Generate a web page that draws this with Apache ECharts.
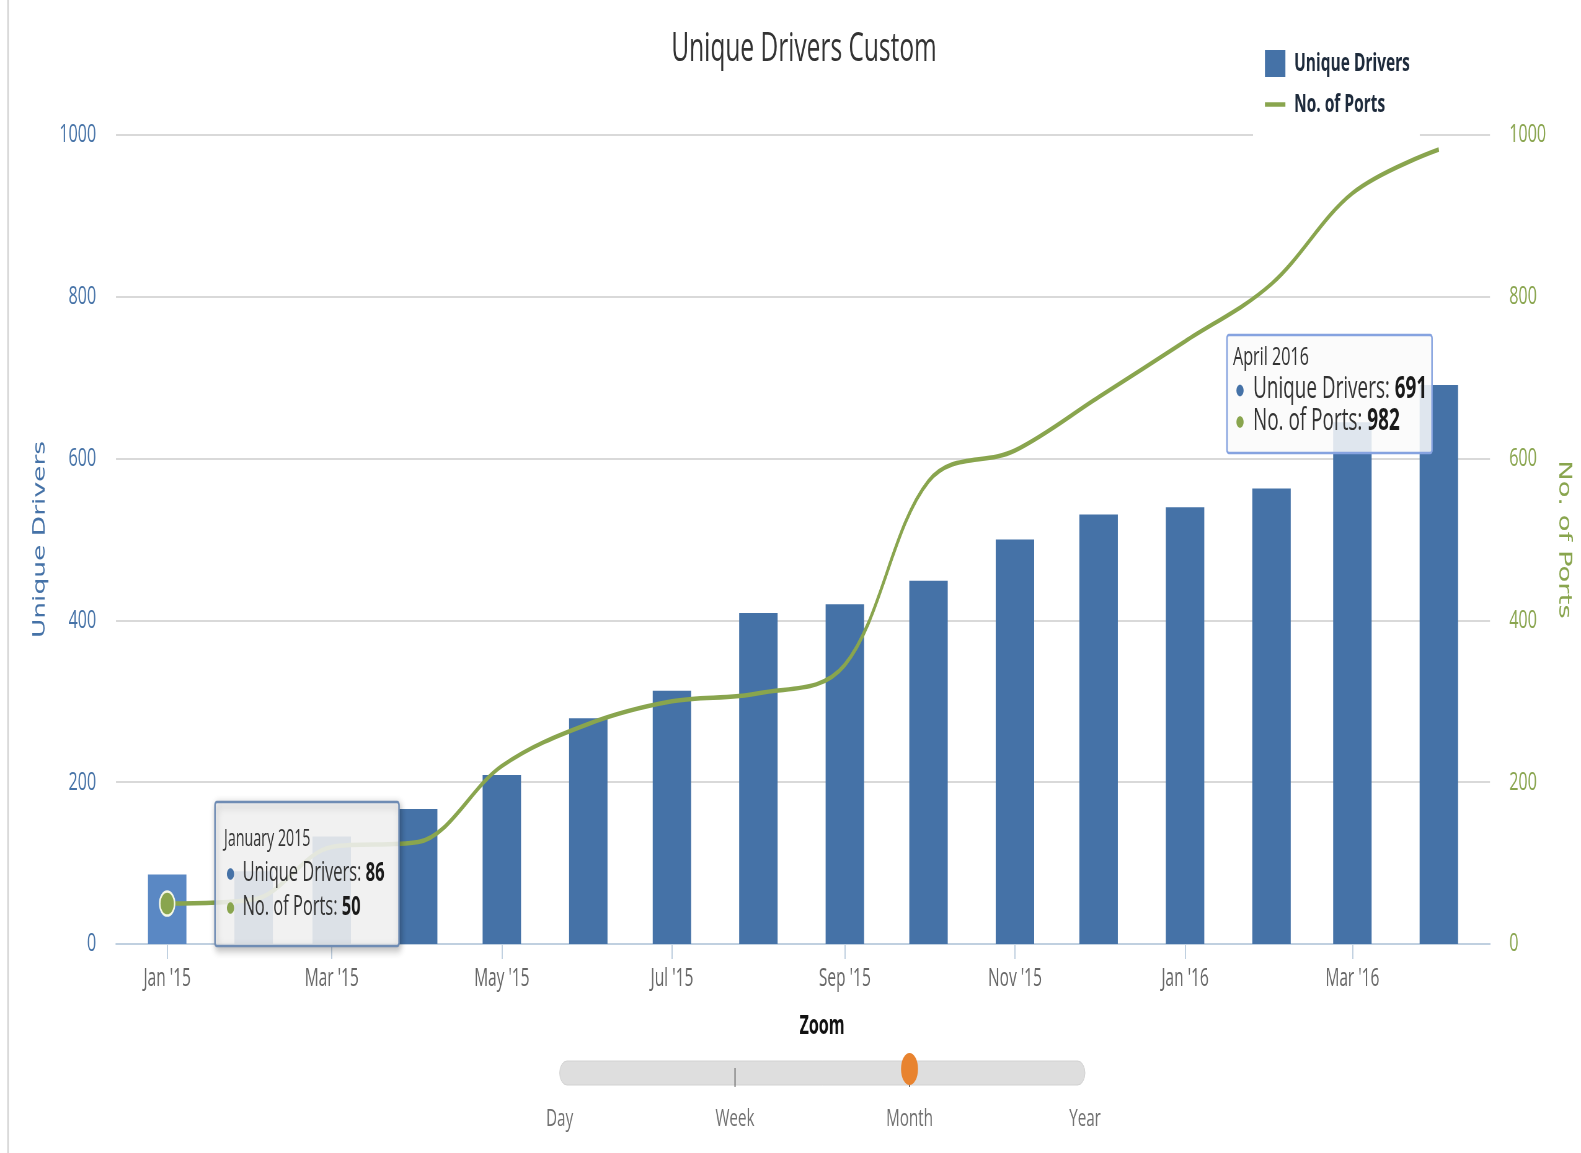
<!DOCTYPE html>
<html>
<head>
<meta charset="utf-8">
<title>Unique Drivers Custom</title>
<script src="https://cdn.jsdelivr.net/npm/echarts@6/dist/echarts.min.js"></script>
<style>
  html, body { margin: 0; padding: 0; overflow: hidden; background: #fff; }
  #wrap { width: 1581px; height: 1153px; overflow: hidden; }
  /* the drawing surface is laid out wide and narrowed horizontally for the condensed look */
  #chart { width: 2550px; height: 1153px; transform: scaleX(0.62); transform-origin: 0 0; }
</style>
</head>
<body>
<div id="wrap"><div id="chart"></div></div>
<script>
// ---- data -------------------------------------------------------------
const months = [
  '2015-01-01', '2015-02-01', '2015-03-01', '2015-04-01', '2015-05-01', '2015-06-01',
  '2015-07-01', '2015-08-01', '2015-09-01', '2015-10-01', '2015-11-01', '2015-12-01',
  '2016-01-01', '2016-02-01', '2016-03-01', '2016-04-01'
];
const uniqueDrivers = [86, 90, 133, 167, 209, 279, 313, 409, 420, 449, 500, 531, 540, 563, 645, 691];
const ports = [50, 55, 120, 126, 220, 272, 300, 310, 345, 572, 610, 676, 745, 816, 928, 982];

const tickMonths = ['2015-01-01', '2015-03-01', '2015-05-01', '2015-07-01',
                    '2015-09-01', '2015-11-01', '2016-01-01', '2016-03-01'];
const tickLabels = ["Jan '15", "Mar '15", "May '15", "Jul '15",
                    "Sep '15", "Nov '15", "Jan '16", "Mar '16"];

const monthNames = ['January', 'February', 'March', 'April', 'May', 'June', 'July',
                    'August', 'September', 'October', 'November', 'December'];
const zoomLevels = ['Day', 'Week', 'Month', 'Year'];
const zoomSelected = 'Month';

// ---- helpers ----------------------------------------------------------
const S = 0.62;                       // horizontal factor of the surface (see CSS)
const px = v => v / S;                // page x -> surface x
const toTime = d => Date.parse(d + 'T00:00:00Z');
const DAY = 24 * 3600 * 1000;
const times = months.map(toTime);
const tickTimes = tickMonths.map(toTime);
const monthTitle = i => {
  const d = new Date(times[i]);
  return monthNames[d.getUTCMonth()] + ' ' + d.getUTCFullYear();
};
const onTop = els => els.map(e => Object.assign({ z: 100, silent: true }, e));

const BLUE = '#4572A7';
const GREEN = '#89A54E';
const FONT = 'Open Sans';

// ---- series data ------------------------------------------------------
const barData = times.map((t, i) => i === 0
  ? { value: [t, uniqueDrivers[i]], itemStyle: { color: '#5a88c4' } }
  : [t, uniqueDrivers[i]]);
const lineData = times.map((t, i) => [t, ports[i]]);

// ---- hover boxes ------------------------------------------------------
function hoverBox(i, box, sizes, boxStyle) {
  const rows = [
    { color: BLUE, label: 'Unique Drivers: ', value: uniqueDrivers[i] },
    { color: GREEN, label: 'No. of Ports: ', value: ports[i] }
  ];
  const els = [{
    type: 'rect',
    shape: { x: px(box.x), y: box.y, width: px(box.x2) - px(box.x), height: box.h, r: 3 },
    style: Object.assign({ fill: 'rgba(250,250,250,0.85)', lineWidth: 2.5 }, boxStyle)
  }, {
    type: 'text', x: px(box.tx), y: box.ty,
    style: { text: monthTitle(i), fontFamily: FONT, fontSize: sizes.title, fill: '#333',
             verticalAlign: 'middle' }
  }];
  rows.forEach((r, k) => {
    const y = box.ty + box.lh * (k + 1);
    els.push({
      type: 'ellipse', shape: { cx: px(box.bx), cy: y + 1, rx: 5.8, ry: 5.8 },
      style: { fill: r.color }
    });
    els.push({
      type: 'text', x: px(box.rx), y: y,
      style: {
        text: '{n|' + r.label + '}{b|' + r.value + '}',
        verticalAlign: 'middle',
        rich: {
          n: { fontFamily: FONT, fontSize: sizes.row, fill: '#333' },
          b: { fontFamily: FONT, fontSize: sizes.row, fontWeight: 'bold', fill: '#1a1a1a' }
        }
      }
    });
  });
  return onTop(els);
}

// ---- zoom control -----------------------------------------------------
function zoomControl() {
  const stops = [559.6, 735, 909.5, 1085];
  const sel = zoomLevels.indexOf(zoomSelected);
  const els = [{
    type: 'text', x: px(822), y: 1027,
    style: { text: 'Zoom', fontFamily: FONT, fontSize: 26, fontWeight: 'bold', fill: '#111',
             align: 'center', verticalAlign: 'middle' }
  }, {
    type: 'rect',
    shape: { x: px(stops[0]), y: 1061, width: px(stops[3]) - px(stops[0]), height: 24, r: 12 },
    style: { fill: '#dedede', stroke: '#d2d2d2', lineWidth: 1 }
  }];
  [1, 2].forEach(k => els.push({
    type: 'line', shape: { x1: px(stops[k]), y1: 1068, x2: px(stops[k]), y2: 1087 },
    style: { stroke: '#555', lineWidth: 1.6 }
  }));
  els.push({
    type: 'ellipse', shape: { cx: px(stops[sel]), cy: 1069, rx: 13.7, ry: 16 },
    style: { fill: '#e8832f' }
  });
  zoomLevels.forEach((name, k) => els.push({
    type: 'text', x: px(stops[k]), y: 1119,
    style: { text: name, fontFamily: FONT, fontSize: 24.5, fill: '#707070',
             align: 'center', verticalAlign: 'middle' }
  }));
  return onTop(els);
}

// ---- chart ------------------------------------------------------------
const PAD = 18.35 * DAY;
const chart = echarts.init(document.getElementById('chart'));

chart.setOption({
  animation: false,
  backgroundColor: '#fff',
  textStyle: { fontFamily: FONT },
  title: {
    text: 'Unique Drivers Custom',
    left: px(804) - 5, top: 25, textAlign: 'center',
    textStyle: { fontFamily: FONT, fontSize: 39.5, fontWeight: 'normal', color: '#333' }
  },
  legend: {
    orient: 'vertical', left: px(1253), top: 34,
    padding: [16, 16, 22, 17],
    backgroundColor: '#fff',
    itemWidth: 33, itemHeight: 27, itemGap: 15,
    selectedMode: false,
    textStyle: { fontFamily: FONT, fontSize: 25, fontWeight: 'bold', color: '#1e2b3c',
                 padding: [0, 0, 0, 9] },
    data: [
      { name: 'Unique Drivers', icon: 'rect' },
      // plain line swatch, no point marker
      { name: 'No. of Ports',
        itemStyle: { color: 'rgba(0,0,0,0)', borderWidth: 0, opacity: 0 },
        lineStyle: { color: GREEN, width: 4.5 } }
    ]
  },
  grid: { left: px(116), right: 2550 - px(1490), top: 135, bottom: 209, containLabel: false },
  xAxis: {
    // month starts as timestamps on a linear scale
    type: 'value',
    min: times[0] - PAD,
    max: times[times.length - 1] + PAD,
    axisLine: { lineStyle: { color: '#C0D0E0', width: 2 } },
    axisTick: { show: true, length: 15, customValues: tickTimes,
                lineStyle: { color: '#C0D0E0', width: 2 } },
    axisLabel: {
      customValues: tickTimes,
      formatter: v => { const k = tickTimes.indexOf(+v); return k >= 0 ? tickLabels[k] : ''; },
      margin: 22, fontSize: 25, color: '#666', fontFamily: FONT
    },
    splitLine: { show: false }
  },
  yAxis: [{
    type: 'value', min: 0, max: 1000, interval: 200, position: 'left',
    name: 'Unique Drivers', nameLocation: 'middle', nameGap: 108,
    nameTextStyle: { color: BLUE, fontFamily: 'DejaVu Sans', fontSize: 26.5 },
    axisLabel: { color: BLUE, fontSize: 26, margin: 32, fontFamily: FONT, formatter: v => String(v) },
    axisLine: { show: false }, axisTick: { show: false },
    splitLine: { lineStyle: { color: '#d9d9d9', width: 2 } }
  }, {
    type: 'value', min: 0, max: 1000, interval: 200, position: 'right',
    name: 'No. of Ports', nameLocation: 'middle', nameGap: 105, nameRotate: -90,
    nameTextStyle: { color: GREEN, fontFamily: 'DejaVu Sans', fontSize: 27.5 },
    axisLabel: { color: GREEN, fontSize: 26, margin: 31, fontFamily: FONT, formatter: v => String(v) },
    axisLine: { show: false }, axisTick: { show: false },
    splitLine: { show: false }
  }],
  series: [{
    name: 'Unique Drivers', type: 'bar', yAxisIndex: 0,
    barWidth: 62,
    itemStyle: { color: BLUE },
    emphasis: { disabled: true },
    data: barData
  }, {
    name: 'No. of Ports', type: 'line', yAxisIndex: 1,
    smooth: 0.35, symbol: 'none',
    lineStyle: { color: GREEN, width: 4.5 },
    itemStyle: { color: GREEN },
    emphasis: { disabled: true },
    // hovered point of the first month
    markPoint: {
      symbol: 'circle', symbolSize: 24, silent: true,
      label: { show: false },
      itemStyle: { color: GREEN, borderColor: '#f3f7e6', borderWidth: 2.5 },
      data: [{ coord: [times[0], ports[0]] }]
    },
    data: lineData
  }],
  graphic: [].concat(
    onTop([{ type: 'line',
      shape: { x1: px(8), y1: 0, x2: px(8), y2: 1153 },
      style: { stroke: '#d4d4d4', lineWidth: 2.5 } }]),
    hoverBox(0,
      { x: 215, x2: 399, y: 802, h: 144, tx: 224, ty: 839, lh: 34, bx: 230.5, rx: 242.5 },
      { title: 23, row: 26.5 },
      { stroke: '#6f8cb4', shadowBlur: 8, shadowColor: 'rgba(0,0,0,0.3)', shadowOffsetX: 2, shadowOffsetY: 3 }),
    hoverBox(uniqueDrivers.length - 1,
      { x: 1227, x2: 1432, y: 335, h: 118, tx: 1233, ty: 358, lh: 31.5, bx: 1240, rx: 1253 },
      { title: 26, row: 30.5 },
      { stroke: '#86a3e0' }),
    zoomControl()
  )
});
</script>
</body>
</html>
